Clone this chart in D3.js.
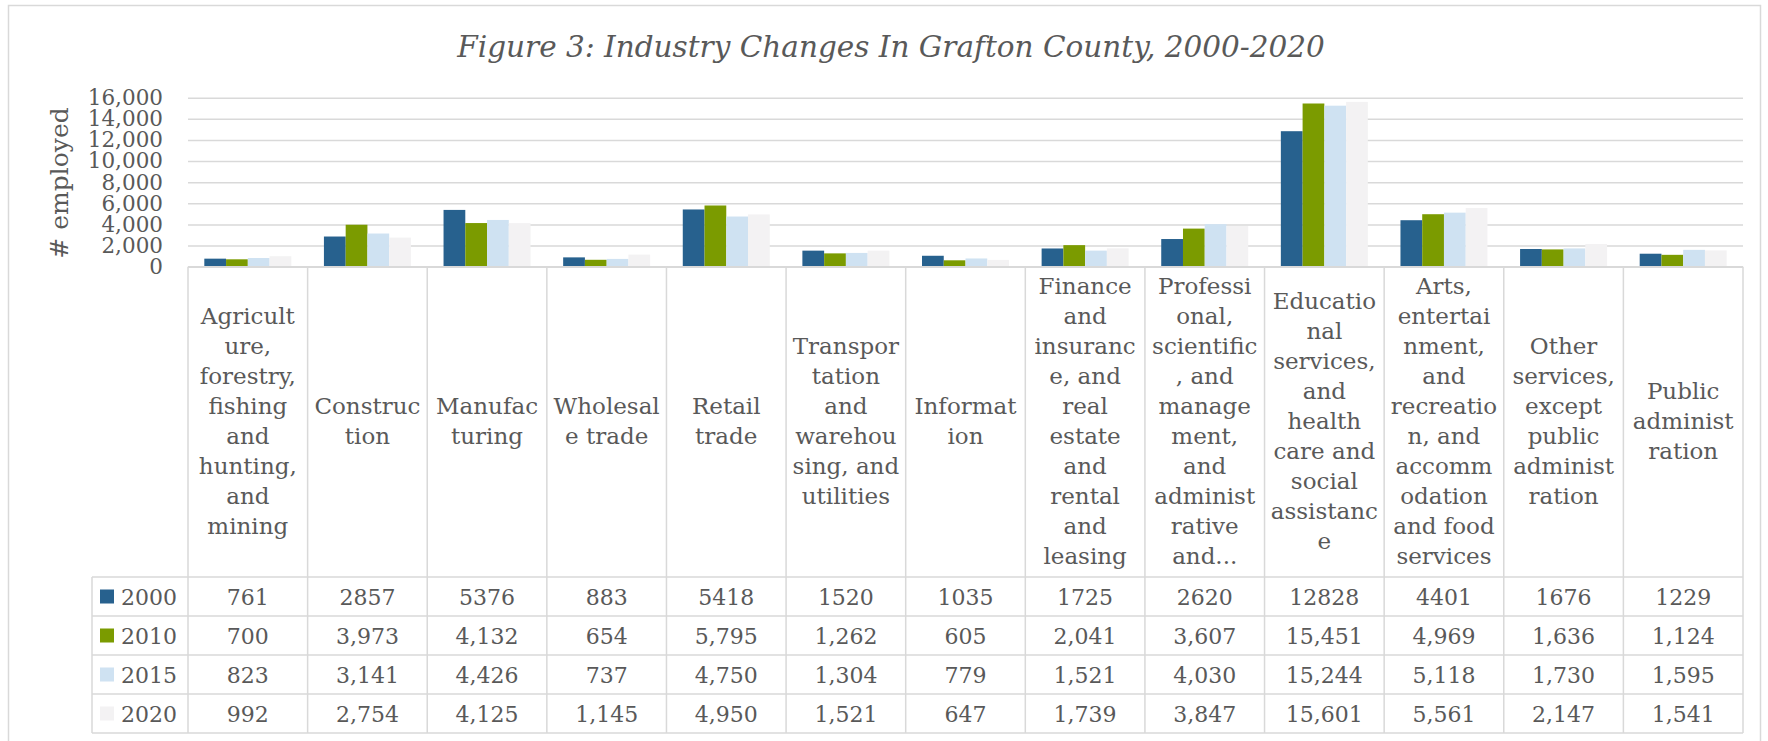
<!DOCTYPE html>
<html>
<head>
<meta charset="utf-8">
<script src="https://cdn.jsdelivr.net/npm/d3@7"></script>
<style>
  body { margin: 0; background: #fff; }
  text { font-family: "DejaVu Serif", serif; fill: #595959; }
</style>
</head>
<body>
<div id="chart"></div>
<script>
(function() {
  var width = 1768, height = 741;

  // industries, as written in the table header (Excel wraps them inside words)
  var categories = [
    ["Agricult", "ure,", "forestry,", "fishing", "and", "hunting,", "and", "mining"],
    ["Construc", "tion"],
    ["Manufac", "turing"],
    ["Wholesal", "e trade"],
    ["Retail", "trade"],
    ["Transpor", "tation", "and", "warehou", "sing, and", "utilities"],
    ["Informat", "ion"],
    ["Finance", "and", "insuranc", "e, and", "real", "estate", "and", "rental", "and", "leasing"],
    ["Professi", "onal,", "scientific", ", and", "manage", "ment,", "and", "administ", "rative", "and..."],
    ["Educatio", "nal", "services,", "and", "health", "care and", "social", "assistanc", "e"],
    ["Arts,", "entertai", "nment,", "and", "recreatio", "n, and", "accomm", "odation", "and food", "services"],
    ["Other", "services,", "except", "public", "administ", "ration"],
    ["Public", "administ", "ration"]
  ];

  var years = ["2000", "2010", "2015", "2020"];

  var values2000 = [761, 2857, 5376, 883, 5418, 1520, 1035, 1725, 2620, 12828, 4401, 1676, 1229];
  var values2010 = [700, 3973, 4132, 654, 5795, 1262, 605, 2041, 3607, 15451, 4969, 1636, 1124];
  var values2015 = [823, 3141, 4426, 737, 4750, 1304, 779, 1521, 4030, 15244, 5118, 1730, 1595];
  var values2020 = [992, 2754, 4125, 1145, 4950, 1521, 647, 1739, 3847, 15601, 5561, 2147, 1541];

  var yTicks = [0, 2000, 4000, 6000, 8000, 10000, 12000, 14000, 16000];

  var series = [values2000, values2010, values2015, values2020];
  var colors = ["#27618e", "#7b9b00", "#cfe2f2", "#f3f2f3"];
  var gridColor = "#d9d9d9";

  // plot area
  var left = 188, right = 1743, top = 97.7, baseline = 266.7;
  var legendLeft = 92, headerBottom = 577, rowH = 39;

  var svg = d3.select("#chart").append("svg")
    .attr("width", width)
    .attr("height", height);

  // chart border
  svg.append("rect")
    .attr("x", 8.5).attr("y", 5.5)
    .attr("width", 1752).attr("height", 760)
    .attr("fill", "none")
    .attr("stroke", gridColor)
    .attr("stroke-width", 1.5);

  svg.append("text")
    .attr("x", 891)
    .attr("y", 57)
    .attr("text-anchor", "middle")
    .style("font-style", "italic")
    .style("font-size", "29.5px")
    .text("Figure 3: Industry Changes In Grafton County, 2000-2020");

  var idx = d3.range(categories.length);

  var x0 = d3.scaleBand().domain(idx).range([left, right]).paddingInner(0).paddingOuter(0);
  var x1 = d3.scaleBand().domain(years).range([0, x0.bandwidth()]).paddingInner(0).paddingOuter(0.75);
  var y = d3.scaleLinear().domain([0, 16000]).range([baseline, top]);

  // gridlines + tick labels
  var yAxis = d3.axisLeft(y)
    .tickValues(yTicks)
    .tickSize(-(right - left))
    .tickPadding(25)
    .tickFormat(d3.format(","));

  var gy = svg.append("g")
    .attr("transform", "translate(" + left + ",0)")
    .call(yAxis);
  gy.select(".domain").remove();
  gy.selectAll("line").attr("stroke", gridColor).attr("stroke-width", 1.5);
  gy.selectAll("text")
    .style("font-size", "21.5px")
    .style("font-family", "DejaVu Serif")
    .attr("fill", "#595959");

  svg.append("text")
    .attr("transform", "translate(68,183) rotate(-90)")
    .attr("text-anchor", "middle")
    .style("font-size", "25px")
    .text("# employed");

  // bars
  var groups = svg.selectAll(".cat")
    .data(idx)
    .enter().append("g")
    .attr("class", "cat")
    .attr("transform", function(i) { return "translate(" + x0(i) + ",0)"; });

  groups.selectAll("rect")
    .data(function(i) {
      return years.map(function(yr, s) { return { year: yr, s: s, value: series[s][i] }; });
    })
    .enter().append("rect")
    .attr("x", function(d) { return x1(d.year); })
    .attr("width", x1.bandwidth())
    .attr("y", function(d) { return y(d.value); })
    .attr("height", function(d) { return baseline - y(d.value); })
    .attr("fill", function(d) { return colors[d.s]; });

  // data table
  var tableBottom = headerBottom + rowH * years.length;
  var table = svg.append("g");

  // horizontal lines
  table.append("line")
    .attr("x1", left).attr("x2", right).attr("y1", baseline).attr("y2", baseline);
  d3.range(years.length + 1).forEach(function(r) {
    table.append("line")
      .attr("x1", legendLeft).attr("x2", right)
      .attr("y1", headerBottom + r * rowH).attr("y2", headerBottom + r * rowH);
  });
  // vertical lines
  idx.concat([categories.length]).forEach(function(i) {
    var xx = i < categories.length ? x0(i) : right;
    table.append("line")
      .attr("x1", xx).attr("x2", xx).attr("y1", baseline).attr("y2", tableBottom);
  });
  table.append("line")
    .attr("x1", legendLeft).attr("x2", legendLeft).attr("y1", headerBottom).attr("y2", tableBottom);
  table.selectAll("line").attr("stroke", gridColor).attr("stroke-width", 1.5);

  // header labels
  var headerMid = (baseline + headerBottom) / 2, lineH = 30;
  groups.each(function(i) {
    var lines = categories[i];
    var t = d3.select(this).append("text")
      .attr("text-anchor", "middle")
      .style("font-size", "23px");
    lines.forEach(function(l, k) {
      t.append("tspan")
        .attr("x", x0.bandwidth() / 2)
        .attr("y", headerMid + (k - (lines.length - 1) / 2) * lineH + 7)
        .text(l);
    });
  });

  // rows
  years.forEach(function(yr, s) {
    var cy = headerBottom + rowH * s + rowH / 2;
    table.append("rect")
      .attr("x", 100).attr("y", cy - 7)
      .attr("width", 14).attr("height", 14)
      .attr("fill", colors[s]);
    table.append("text")
      .attr("x", 121).attr("y", cy + 8)
      .style("font-size", "22px")
      .text(yr);
    var fmt = s === 0 ? d3.format("d") : d3.format(",");
    table.selectAll(".v" + yr)
      .data(series[s])
      .enter().append("text")
      .attr("class", "v" + yr)
      .attr("x", function(d, i) { return x0(i) + x0.bandwidth() / 2; })
      .attr("y", cy + 8)
      .attr("text-anchor", "middle")
      .style("font-size", "22px")
      .text(function(d) { return fmt(d); });
  });
})();
</script>
</body>
</html>
